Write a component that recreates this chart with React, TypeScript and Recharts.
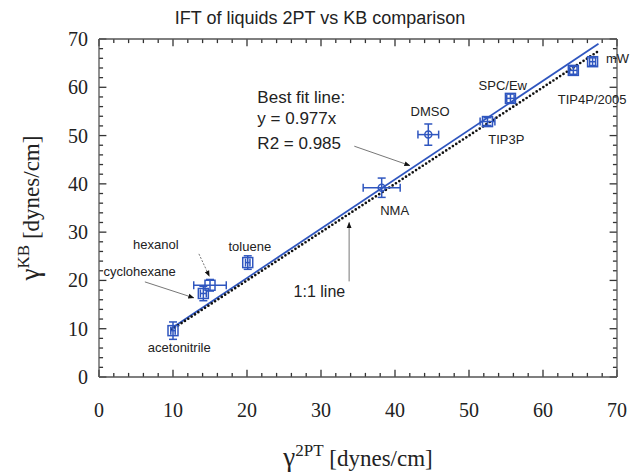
import { ComposedChart, ErrorBar, Line, ReferenceLine, Scatter, XAxis, YAxis } from "recharts";

const liquids = ["acetonitrile", "cyclohexane", "hexanol", "toluene", "NMA", "DMSO", "TIP3P", "SPC/Ew", "TIP4P/2005", "mW"];
const gamma2PT = [10.0, 14.1, 15.0, 20.1, 38.2, 44.5, 52.5, 55.6, 64.1, 66.7];
const gammaKB = [9.6, 17.3, 19.0, 23.7, 39.2, 50.2, 52.9, 57.7, 63.5, 65.3];
const err2PT = [0.3, 0.4, 2.2, 0.3, 2.5, 1.4, 1.0, 0.5, 0.5, 0.4];
const errKB = [1.8, 1.5, 1.2, 1.4, 2.0, 2.2, 0.8, 0.9, 0.8, 0.8];

const fitLine = [{ x: 9.8, y: 10.1 }, { x: 67.5, y: 69.0 }];
const unityLine = [{ x: 9.8, y: 9.8 }, { x: 67.3, y: 67.3 }];

const axisTicks = [0, 2, 4, 6, 8, 10, 12, 14, 16, 18, 20, 22, 24, 26, 28, 30, 32, 34, 36, 38, 40, 42, 44, 46, 48, 50, 52, 54, 56, 58, 60, 62, 64, 66, 68, 70];

const notes = [
  { text: "acetonitrile", x: 6.6, y: 5.1, size: 13 },
  { text: "cyclohexane", x: 0.6, y: 21.0, size: 13 },
  { text: "hexanol", x: 4.6, y: 26.6, size: 13 },
  { text: "toluene", x: 17.5, y: 26.0, size: 13 },
  { text: "NMA", x: 38.0, y: 33.5, size: 13 },
  { text: "DMSO", x: 42.1, y: 54.1, size: 13 },
  { text: "TIP3P", x: 52.6, y: 48.3, size: 13 },
  { text: "SPC/Ew", x: 51.3, y: 59.5, size: 13 },
  { text: "TIP4P/2005", x: 62.0, y: 56.6, size: 13 },
  { text: "mW", x: 68.5, y: 65.1, size: 13 },
  { text: "Best fit line:", x: 21.4, y: 56.8, size: 17 },
  { text: "y = 0.977x", x: 21.4, y: 52.3, size: 17 },
  { text: "R2 = 0.985", x: 21.4, y: 47.3, size: 17 },
  { text: "1:1 line", x: 26.3, y: 16.5, size: 16 },
];

const arrows = [
  { from: { x: 34.5, y: 47.8 }, to: { x: 42.0, y: 43.8 }, dash: "" },
  { from: { x: 33.8, y: 19.8 }, to: { x: 33.8, y: 32.0 }, dash: "" },
  { from: { x: 13.5, y: 25.5 }, to: { x: 14.9, y: 20.9 }, dash: "2 1.5" },
  { from: { x: 6.2, y: 19.7 }, to: { x: 12.8, y: 16.4 }, dash: "" },
];

const BLUE = "#2f56bf";
const FRAME = "#555";
const circleMarked = new Set(["NMA", "DMSO"]);
// inward tick lengths, in axis units (vertical ticks use y units, horizontal ticks x units)
const V_MAJOR = 1.5;
const V_MINOR = 0.85;
const H_MAJOR = 1.0;
const H_MINOR = 0.55;

const points = liquids.map((name, i) => ({ name, x: gamma2PT[i], y: gammaKB[i], ex: err2PT[i], ey: errKB[i] }));

function PointMarker(props: any) {
  const { cx, cy, payload } = props;
  if (cx == null || cy == null) return null;
  if (circleMarked.has(payload.name)) {
    return <circle cx={cx} cy={cy} r={3.5} fill="none" stroke={BLUE} strokeWidth={1.5} />;
  }
  return <rect x={cx - 5} y={cy - 5} width={10} height={10} fill="none" stroke={BLUE} strokeWidth={1.5} />;
}

function NoteText(props: any) {
  const { cx, cy, payload } = props;
  if (cx == null || cy == null) return null;
  return (
    <text x={cx} y={cy} fontFamily="'Liberation Sans', Arial, sans-serif" fontSize={payload.size} fill="#222">
      {payload.text}
    </text>
  );
}

function BottomLabel(props: any) {
  const { x, y, payload } = props;
  const v = Number(payload.value);
  if (v % 10 !== 0) return <g />;
  return <text x={x} y={y + 40} textAnchor="middle" fontFamily="'Liberation Serif', serif" fontSize={20} fill="#222">{v}</text>;
}

function LeftLabel(props: any) {
  const { x, y, payload } = props;
  const v = Number(payload.value);
  if (v % 10 !== 0) return <g />;
  return <text x={x - 11} y={y + 7} textAnchor="end" fontFamily="'Liberation Serif', serif" fontSize={20} fill="#222">{v}</text>;
}

function XTitle(props: any) {
  const { viewBox } = props;
  const cx = viewBox.x + viewBox.width / 2;
  return (
    <text x={cx} y={viewBox.y + 89} textAnchor="middle" fontFamily="'Liberation Serif', serif" fill="#222">
      <tspan fontSize={27}>γ</tspan>
      <tspan fontSize={17} dy={-10}>2PT</tspan>
      <tspan fontSize={23} dy={10}> [dynes/cm]</tspan>
    </text>
  );
}

function YTitle(props: any) {
  const { viewBox } = props;
  const cy = viewBox.y + viewBox.height / 2;
  const cx = viewBox.x - 20;
  return (
    <text x={cx} y={cy} transform={`rotate(-90 ${cx} ${cy})`} textAnchor="middle" fontFamily="'Liberation Serif', serif" fill="#222">
      <tspan fontSize={27}>γ</tspan>
      <tspan fontSize={17} dy={-10}>KB</tspan>
      <tspan fontSize={23} dy={10}> [dynes/cm]</tspan>
    </text>
  );
}

export default function App() {
  const tickSegments: { key: string; seg: [{ x: number; y: number }, { x: number; y: number }] }[] = [];
  axisTicks.forEach((v) => {
    const major = v % 10 === 0;
    const lv = major ? V_MAJOR : V_MINOR;
    const lh = major ? H_MAJOR : H_MINOR;
    tickSegments.push({ key: `b${v}`, seg: [{ x: v, y: 0 }, { x: v, y: lv }] });
    tickSegments.push({ key: `t${v}`, seg: [{ x: v, y: 70 }, { x: v, y: 70 - lv }] });
    tickSegments.push({ key: `l${v}`, seg: [{ x: 0, y: v }, { x: lh, y: v }] });
    tickSegments.push({ key: `r${v}`, seg: [{ x: 70, y: v }, { x: 70 - lh, y: v }] });
  });

  return (
    <div style={{ position: "absolute", left: 0, top: 0, width: 634, height: 472, background: "#fff" }}>
      <svg width={0} height={0} style={{ position: "absolute" }}>
        <defs>
          <marker id="arrowHead" viewBox="0 0 10 10" refX="9" refY="5" markerWidth="6" markerHeight="6" orient="auto">
            <path d="M0,1 L10,5 L0,9 z" fill="#111" />
          </marker>
        </defs>
      </svg>
      <div style={{ position: "absolute", left: 0, top: 9, width: 640, textAlign: "center", fontFamily: "'Liberation Sans', Arial, sans-serif", fontSize: 18, lineHeight: "18px", color: "#222" }}>
        IFT of liquids 2PT vs KB comparison
      </div>
      <ComposedChart width={634} height={472} margin={{ top: 38, right: 16, bottom: 65, left: 59 }}>
        <XAxis type="number" dataKey="x" domain={[0, 70]} ticks={axisTicks} interval={0} tickSize={0} tickMargin={0} tickLine={false} tick={BottomLabel} axisLine={{ stroke: FRAME, strokeWidth: 1.3 }} height={30} label={<XTitle />} />
        <XAxis xAxisId="top" orientation="top" type="number" dataKey="x" domain={[0, 70]} tick={false} tickLine={false} axisLine={{ stroke: FRAME, strokeWidth: 1.3 }} height={1} />
        <YAxis type="number" dataKey="y" domain={[0, 70]} ticks={axisTicks} interval={0} tickSize={0} tickMargin={0} tickLine={false} tick={LeftLabel} axisLine={{ stroke: FRAME, strokeWidth: 1.3 }} width={40} label={<YTitle />} />
        <YAxis yAxisId="right" orientation="right" type="number" dataKey="y" domain={[0, 70]} tick={false} tickLine={false} axisLine={{ stroke: FRAME, strokeWidth: 1.3 }} width={1} />

        {tickSegments.map((t) => (
          <ReferenceLine key={t.key} segment={t.seg} stroke="#333" strokeWidth={1.3} ifOverflow="visible" />
        ))}

        {arrows.map((a, i) => (
          <ReferenceLine key={i} segment={[a.from, a.to]} stroke="#777" strokeWidth={1} strokeDasharray={a.dash || undefined} markerEnd="url(#arrowHead)" />
        ))}

        <Line data={fitLine} dataKey="y" stroke={BLUE} strokeWidth={1.8} dot={false} isAnimationActive={false} />
        <Line data={unityLine} dataKey="y" stroke="#111" strokeWidth={2.7} strokeDasharray="0 4" strokeLinecap="round" dot={false} isAnimationActive={false} />

        <Scatter data={points} shape={<PointMarker />} isAnimationActive={false}>
          <ErrorBar dataKey="ey" direction="y" width={4} stroke={BLUE} strokeWidth={1.5} isAnimationActive={false} />
          <ErrorBar dataKey="ex" direction="x" width={4} stroke={BLUE} strokeWidth={1.5} isAnimationActive={false} />
        </Scatter>

        <Scatter data={notes} shape={<NoteText />} isAnimationActive={false} />
      </ComposedChart>
    </div>
  );
}
